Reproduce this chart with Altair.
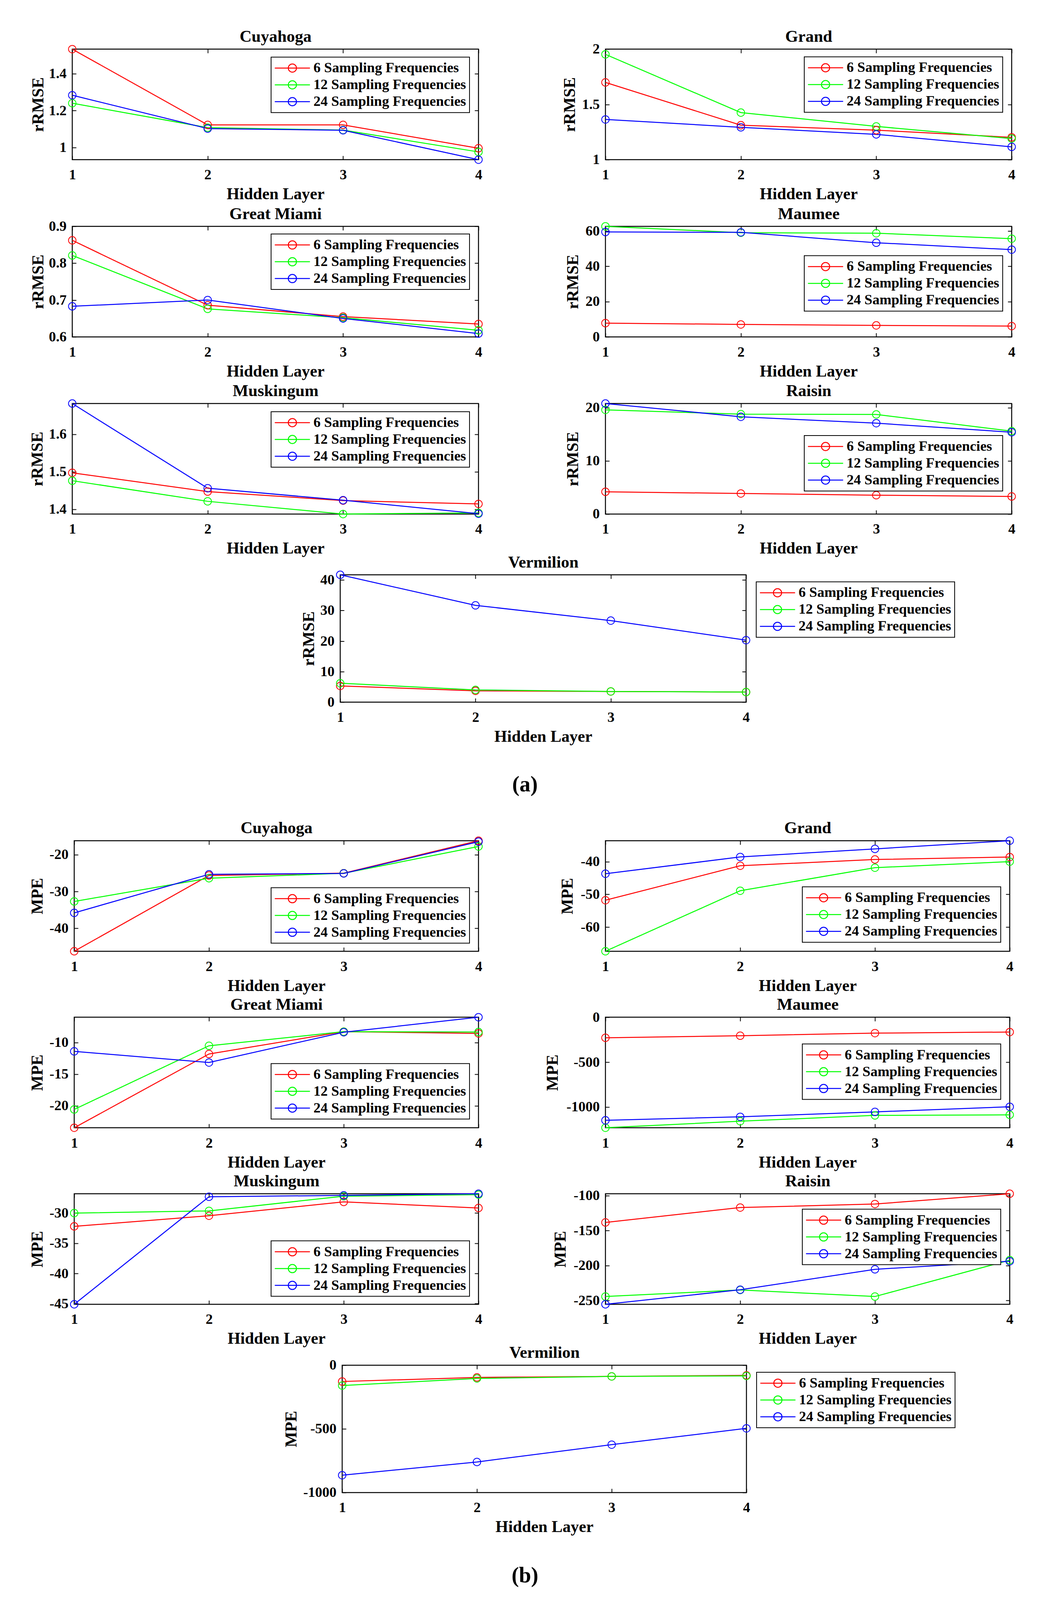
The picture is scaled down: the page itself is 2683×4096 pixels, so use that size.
import altair as alt
import pandas as pd

FONT = "Liberation Serif"

# ---------------- data ----------------
hidden_layers = [1, 2, 3, 4]
series_labels = ["6 Sampling Frequencies", "12 Sampling Frequencies", "24 Sampling Frequencies"]
series_colors = ["#ff0000", "#00ff00", "#0000ff"]
section_labels = ["(a)", "(b)"]

# (a) rRMSE : rows = 6, 12, 24 sampling frequencies ; columns = hidden layer 1..4
rrmse_cuyahoga = [[1.532, 1.123, 1.123, 0.997], [1.240, 1.108, 1.095, 0.977], [1.283, 1.103, 1.094, 0.935]]
rrmse_grand = [[1.699, 1.312, 1.267, 1.202], [1.953, 1.426, 1.301, 1.191], [1.364, 1.293, 1.229, 1.116]]
rrmse_great_miami = [[0.862, 0.686, 0.655, 0.635], [0.821, 0.676, 0.652, 0.618], [0.683, 0.700, 0.650, 0.609]]
rrmse_maumee = [[7.8, 7.05, 6.5, 6.1], [62.6, 59.0, 58.7, 55.6], [59.4, 59.2, 53.3, 49.4]]
rrmse_muskingum = [[1.497, 1.447, 1.423, 1.414], [1.476, 1.421, 1.387, 1.390], [1.682, 1.456, 1.424, 1.388]]
rrmse_raisin = [[4.19, 3.87, 3.55, 3.31], [19.6, 18.8, 18.75, 15.6], [20.8, 18.3, 17.1, 15.4]]
rrmse_vermilion = [[5.3, 3.7, 3.5, 3.3], [6.2, 4.0, 3.5, 3.3], [41.7, 31.7, 26.7, 20.3]]

# (b) MPE
mpe_cuyahoga = [[-46.2, -25.65, -25.03, -16.23], [-32.7, -26.4, -25.06, -17.8], [-35.8, -25.34, -25.1, -16.5]]
mpe_grand = [[-51.8, -41.26, -39.34, -38.6], [-67.4, -48.9, -41.85, -40.0], [-43.7, -38.57, -36.1, -33.6]]
mpe_great_miami = [[-23.47, -11.81, -8.28, -8.56], [-20.57, -10.51, -8.28, -8.34], [-11.39, -13.16, -8.37, -6.0]]
mpe_maumee = [[-229, -206, -177, -165], [-1231, -1158, -1093, -1087], [-1148, -1109, -1054, -997]]
mpe_muskingum = [[-32.2, -30.44, -28.15, -29.16], [-30.0, -29.64, -27.2, -26.95], [-45.1, -27.3, -27.07, -26.8]]
mpe_raisin = [[-138.4, -117.1, -112.1, -97.4], [-244.3, -234.9, -244.3, -192.3], [-255.4, -234.6, -205.4, -193.9]]
mpe_vermilion = [[-128, -96, -88, -80], [-160, -104, -88, -84], [-864, -760, -624, -496]]

# y tick values
ticks_rrmse_cuyahoga = [1, 1.2, 1.4]
ticks_rrmse_grand = [1, 1.5, 2]
ticks_rrmse_great_miami = [0.6, 0.7, 0.8, 0.9]
ticks_rrmse_maumee = [0, 20, 40, 60]
ticks_rrmse_muskingum = [1.4, 1.5, 1.6]
ticks_rrmse_raisin = [0, 10, 20]
ticks_rrmse_vermilion = [0, 10, 20, 30, 40]
ticks_mpe_cuyahoga = [-40, -30, -20]
ticks_mpe_grand = [-60, -50, -40]
ticks_mpe_great_miami = [-20, -15, -10]
ticks_mpe_maumee = [-1000, -500, 0]
ticks_mpe_muskingum = [-45, -40, -35, -30]
ticks_mpe_raisin = [-250, -200, -150, -100]
ticks_mpe_vermilion = [-1000, -500, 0]

# y axis limits
dom_rrmse_cuyahoga = [0.935, 1.532]
dom_rrmse_grand = [1, 2]
dom_rrmse_great_miami = [0.6, 0.9]
dom_rrmse_maumee = [0, 62.6]
dom_rrmse_muskingum = [1.387, 1.682]
dom_rrmse_raisin = [0, 20.8]
dom_rrmse_vermilion = [0, 41.7]
dom_mpe_cuyahoga = [-46.2, -16.23]
dom_mpe_grand = [-67.4, -33.6]
dom_mpe_great_miami = [-23.47, -6.0]
dom_mpe_maumee = [-1231, 0]
dom_mpe_muskingum = [-45.1, -26.8]
dom_mpe_raisin = [-255.4, -97.4]
dom_mpe_vermilion = [-1000, 0]

# ---------------- layout constants (pixels) ----------------
W_A, W_B = 1040, 1035
H = 283
VW_A, VW_B, VH = 1039, 1035, 326
GAP_X = 325
TICK = 10
TICK_FS = 36.5
AXT_FS = 42
TITLE_FS = 42.5
TITLE_BASE = 19.3
LEG_FS = 36.5
LEG_W = 505
LEG_RIGHT = 26
MARK_SIZE = 372
MARK_SW = 2
SEC_SPACER = 59
VA_SPACER = 859
VB_SPACER = 864
LABEL_X = 1332
ROW_GAP_A = 4.6
ROW_GAP_B = 2.9
BLOCK_GAP = -10.3

LEGEND_SYMBOL = "M-1,0L1,0M0.233,0A0.233,0.233,0,1,1,-0.233,0A0.233,0.233,0,1,1,0.233,0"


def make_df(values):
    recs = []
    for name, vals in zip(series_labels, values):
        for layer, v in zip(hidden_layers, vals):
            recs.append({"layer": layer, "value": v, "series": name})
    return pd.DataFrame(recs)


def panel(title, ylabel, values, yticks, ydomain, width, height, legend_x, legend_y, yt_base):
    df = make_df(values)
    xs = alt.Scale(domain=[1, 4], nice=False, zero=False)
    ys = alt.Scale(domain=ydomain, nice=False, zero=False)
    cs = alt.Scale(domain=series_labels, range=series_colors)
    tick_common = dict(offset=-TICK, tickSize=TICK, tickWidth=2, tickColor="black",
                       domain=False, grid=False)
    lab_common = dict(labelFont=FONT, labelFontSize=TICK_FS, labelFontWeight="bold",
                      labelColor="black", labelFlush=False, labelOverlap=False,
                      labelExpr="'' + datum.value")
    tt_common = dict(titleFont=FONT, titleFontWeight="bold", titleColor="black",
                     titleBaseline="alphabetic")
    x_bottom = alt.Axis(orient="bottom", values=hidden_layers, labelPadding=21,
                        title="Hidden Layer", titleFontSize=AXT_FS, titleY=101 + TICK,
                        **tt_common, **tick_common, **lab_common)
    x_top = alt.Axis(orient="top", values=hidden_layers, labels=False,
                     title=title, titleFontSize=TITLE_FS, titleY=-(TITLE_BASE + TICK),
                     **tt_common, **tick_common)
    y_left = alt.Axis(orient="left", values=yticks, labelPadding=15,
                      title=ylabel, titleFontSize=AXT_FS, titleAngle=270,
                      titleX=-(yt_base + TICK), **tt_common, **tick_common, **lab_common)
    y_right = alt.Axis(orient="right", values=yticks, labels=False, title=None, **tick_common)

    leg = alt.Legend(title=None, orient="none", legendX=legend_x, legendY=legend_y,
                     direction="vertical", symbolType=LEGEND_SYMBOL, symbolSize=8100,
                     symbolStrokeWidth=2.5, symbolFillColor="transparent", symbolOffset=0,
                     clipHeight=40, rowPadding=3, padding=8,
                     labelFont=FONT, labelFontSize=LEG_FS, labelFontWeight="bold",
                     labelColor="black", labelOffset=7.5, labelLimit=1000,
                     strokeColor="black", fillColor="white")

    line = alt.Chart(df).mark_line(strokeWidth=2.5).encode(
        x=alt.X("layer:Q", scale=xs, axis=x_bottom),
        y=alt.Y("value:Q", scale=ys, axis=y_left),
        color=alt.Color("series:N", scale=cs, legend=leg),
    )
    pts = alt.Chart(df).mark_point(shape="circle", filled=False, size=MARK_SIZE,
                                   strokeWidth=MARK_SW, opacity=1).encode(
        x=alt.X("layer:Q", scale=xs, axis=x_top),
        y=alt.Y("value:Q", scale=ys, axis=y_right),
        stroke=alt.Stroke("series:N", scale=cs, legend=None),
    )
    return alt.layer(line, pts).resolve_axis(x="independent", y="independent").properties(
        width=width, height=height,
        view=alt.ViewBackground(stroke="black", strokeWidth=2.5),
    )


def indep(c):
    return c.resolve_scale(color="independent", stroke="independent").resolve_legend(
        color="independent", stroke="independent")


def spacer(w):
    return alt.Chart(pd.DataFrame({"s": [0]})).mark_point(opacity=0).encode(
        x=alt.value(0), y=alt.value(0)).properties(
        width=w, height=10, view=alt.ViewBackground(stroke="transparent"))


def section_label(text, y, h):
    return alt.Chart(pd.DataFrame({"label": [text]})).mark_text(
        font=FONT, fontSize=56, fontWeight="bold", color="black",
        align="center", baseline="middle").encode(
        text="label:N", x=alt.value(LABEL_X), y=alt.value(y)).properties(
        width=1400, height=h, view=alt.ViewBackground(stroke="transparent"))


def lx(w):
    return w - LEG_RIGHT - LEG_W


def row(left, right):
    return indep(alt.hconcat(left, right, spacing=GAP_X, bounds="flush"))


# ---------------- section (a) ----------------
a1 = row(panel("Cuyahoga", "rRMSE", rrmse_cuyahoga, ticks_rrmse_cuyahoga, dom_rrmse_cuyahoga, W_A, H, lx(W_A), 20.5, 74.7),
         panel("Grand", "rRMSE", rrmse_grand, ticks_rrmse_grand, dom_rrmse_grand, W_A, H, lx(W_A), 19.7, 78))
a2 = row(panel("Great Miami", "rRMSE", rrmse_great_miami, ticks_rrmse_great_miami, dom_rrmse_great_miami, W_A, H, lx(W_A), 19.7, 74.7),
         panel("Maumee", "rRMSE", rrmse_maumee, ticks_rrmse_maumee, dom_rrmse_maumee, W_A, H, lx(W_A), 75, 70.6))
a3 = row(panel("Muskingum", "rRMSE", rrmse_muskingum, ticks_rrmse_muskingum, dom_rrmse_muskingum, W_A, H, lx(W_A), 21, 77),
         panel("Raisin", "rRMSE", rrmse_raisin, ticks_rrmse_raisin, dom_rrmse_raisin, W_A, H, lx(W_A), 82, 70.6))
secA = indep(alt.hconcat(spacer(SEC_SPACER), indep(alt.vconcat(a1, a2, a3, spacing=ROW_GAP_A)), spacing=0))
va = indep(alt.hconcat(spacer(VA_SPACER),
                       panel("Vermilion", "rRMSE", rrmse_vermilion, ticks_rrmse_vermilion, dom_rrmse_vermilion, VW_A, VH, VW_A + 26, 18, 68),
                       spacing=0, bounds="flush"))
lab_a = section_label(section_labels[0], 100.5, 198)

# ---------------- section (b) ----------------
b1 = row(panel("Cuyahoga", "MPE", mpe_cuyahoga, ticks_mpe_cuyahoga, dom_mpe_cuyahoga, W_B, H, lx(W_B), 120.4, 82),
         panel("Grand", "MPE", mpe_grand, ticks_mpe_grand, dom_mpe_grand, W_B, H, lx(W_B), 118, 84.6))
b2 = row(panel("Great Miami", "MPE", mpe_great_miami, ticks_mpe_great_miami, dom_mpe_great_miami, W_B, H, lx(W_B), 118.6, 82),
         panel("Maumee", "MPE", mpe_maumee, ticks_mpe_maumee, dom_mpe_maumee, W_B, H, lx(W_B), 68.5, 122))
b3 = row(panel("Muskingum", "MPE", mpe_muskingum, ticks_mpe_muskingum, dom_mpe_muskingum, W_B, H, lx(W_B), 120.6, 82),
         panel("Raisin", "MPE", mpe_raisin, ticks_mpe_raisin, dom_mpe_raisin, W_B, H, lx(W_B), 39.6, 102))
secB = indep(alt.hconcat(spacer(SEC_SPACER), indep(alt.vconcat(b1, b2, b3, spacing=ROW_GAP_B)), spacing=0))
vb = indep(alt.hconcat(spacer(VB_SPACER),
                       panel("Vermilion", "MPE", mpe_vermilion, ticks_mpe_vermilion, dom_mpe_vermilion, VW_B, VH, VW_B + 26, 18, 117.6),
                       spacing=0, bounds="flush"))
lab_b = section_label(section_labels[1], 102, 140)

chart = indep(alt.vconcat(secA, va, lab_a, secB, vb, lab_b, spacing=BLOCK_GAP)).properties(
    padding={"left": 0, "top": 62.8, "right": 5, "bottom": 5}
).configure_view(stroke="transparent").configure_legend(strokeWidth=2)

chart.save("out.html", embed_options={"renderer": "svg", "actions": False})
